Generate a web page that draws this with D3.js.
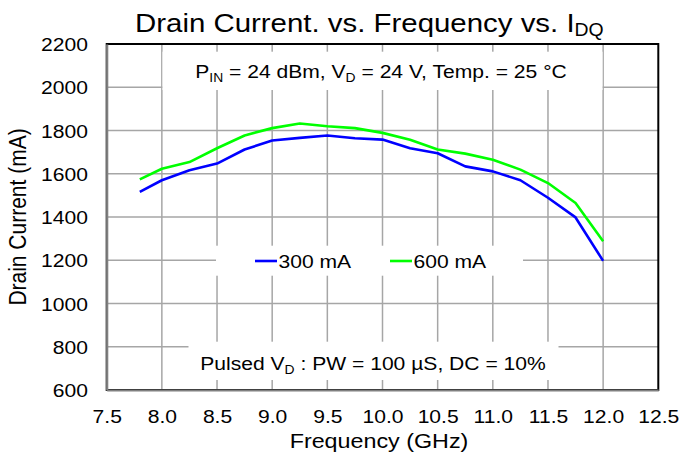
<!DOCTYPE html>
<html>
<head>
<meta charset="utf-8">
<script src="https://cdn.jsdelivr.net/npm/d3@7"></script>
<style>
  html, body { margin: 0; padding: 0; background: #fff; }
  text { font-family: "Liberation Sans", Arial, sans-serif; fill: #000; }
</style>
</head>
<body>
<svg id="chart" width="681" height="456"></svg>
<script>
// ---- data ----
const freqGHz = [7.8, 8.0, 8.25, 8.5, 8.75, 9.0, 9.25, 9.5, 9.75, 10.0, 10.25, 10.5, 10.75, 11.0, 11.25, 11.5, 11.75, 12.0];
const idq300 = [1516, 1570, 1616, 1647, 1712, 1754, 1766, 1777, 1764, 1758, 1718, 1695, 1634, 1611, 1570, 1489, 1398, 1197];
const idq600 = [1574, 1623, 1654, 1718, 1777, 1811, 1832, 1820, 1811, 1789, 1757, 1712, 1693, 1665, 1619, 1557, 1465, 1288];
const seriesNames = ["300 mA", "600 mA"];
const xTicks = [7.5, 8.0, 8.5, 9.0, 9.5, 10.0, 10.5, 11.0, 11.5, 12.0, 12.5];
const yTicks = [600, 800, 1000, 1200, 1400, 1600, 1800, 2000, 2200];

// ---- layout ----
const SX = 1.11; // horizontal text stretch of the reference
const svg = d3.select("#chart");
const L = 106.7, R = 658.3, T = 44, B = 390;
const x = d3.scaleLinear().domain([7.5, 12.5]).range([L, R]);
const y = d3.scaleLinear().domain([600, 2200]).range([B, T]);

function txt(parent, px, py, size, anchor, rot) {
  return parent.append("text")
    .attr("transform", `translate(${px},${py}) scale(${SX},1)` + (rot ? ` rotate(${rot})` : ""))
    .attr("font-size", size)
    .attr("text-anchor", anchor || "start");
}

// gridlines
const grid = svg.append("g").attr("stroke", "#a6a6a6").attr("stroke-width", 1.5);
grid.selectAll("line.v").data(xTicks.slice(1, -1)).join("line")
  .attr("x1", d => x(d)).attr("x2", d => x(d)).attr("y1", T).attr("y2", B);
grid.selectAll("line.h").data(yTicks.slice(1, -1)).join("line")
  .attr("y1", d => y(d)).attr("y2", d => y(d)).attr("x1", L).attr("x2", R);

// white annotation / legend boxes (cover gridlines)
svg.append("rect").attr("x", 162.5).attr("y", 51.7).attr("width", 440).attr("height", 38.3).attr("fill", "#fff");
svg.append("rect").attr("x", 188.5).attr("y", 341.7).attr("width", 370).attr("height", 38.3).attr("fill", "#fff");
svg.append("rect").attr("x", 216).attr("y", 245.7).attr("width", 307).attr("height", 30).attr("fill", "#fff");

// plot border
svg.append("rect").attr("x", L).attr("y", T).attr("width", R - L).attr("height", B - T)
  .attr("fill", "none").attr("stroke", "#000").attr("stroke-width", 2);
// axes (gray)
const xAxis = d3.axisBottom(x).tickValues(xTicks).tickSize(0).tickFormat(d3.format(".1f"));
const yAxis = d3.axisLeft(y).tickValues(yTicks).tickSize(0).tickFormat(d3.format("d"));
const gx = svg.append("g").attr("transform", `translate(0,${B})`).call(xAxis);
const gy = svg.append("g").attr("transform", `translate(${L},0)`).call(yAxis);
[gx, gy].forEach(g => {
  g.select(".domain").attr("stroke", "#808080").attr("stroke-width", 2.2);
  g.selectAll("text").attr("font-family", "Liberation Sans, Arial, sans-serif").attr("font-size", 19).attr("fill", "#000");
});
gx.selectAll(".tick text").attr("y", 0).attr("dy", 0)
  .attr("transform", `translate(0,33) scale(${SX},1)`);
gy.selectAll(".tick text").attr("x", 0).attr("dy", "0.35em")
  .attr("transform", `translate(-18.7,0) scale(${SX},1)`);

// lines
const line = d3.line().x((d, i) => x(freqGHz[i])).y(d => y(d));
svg.append("path").datum(idq300).attr("d", line).attr("fill", "none")
  .attr("stroke", "#0000ff").attr("stroke-width", 2.6).attr("stroke-linejoin", "round");
svg.append("path").datum(idq600).attr("d", line).attr("fill", "none")
  .attr("stroke", "#00ff00").attr("stroke-width", 2.6).attr("stroke-linejoin", "round");

// legend
const legColors = ["#0000ff", "#00ff00"];
const legX = [255, 390];
seriesNames.forEach((n, i) => {
  svg.append("line").attr("x1", legX[i]).attr("x2", legX[i] + 22).attr("y1", 261).attr("y2", 261)
    .attr("stroke", legColors[i]).attr("stroke-width", 2.6);
  txt(svg, legX[i] + 23.5, 267.7, 19, "start").text(n);
});

// title
const title = txt(svg, 135, 32, 26.5, "start");
title.append("tspan").text("Drain Current. vs. Frequency vs. I");
title.append("tspan").attr("font-size", 17.5).attr("dy", 4).text("DQ");

// annotations
const a1 = txt(svg, 381, 78, 19, "middle");
a1.append("tspan").text("P");
a1.append("tspan").attr("font-size", 12.5).attr("dy", 3.5).text("IN");
a1.append("tspan").attr("dy", -3.5).text(" = 24 dBm, V");
a1.append("tspan").attr("font-size", 12.5).attr("dy", 3.5).text("D");
a1.append("tspan").attr("dy", -3.5).text(" = 24 V, Temp. = 25 °C");

const a2 = txt(svg, 373, 370, 19, "middle");
a2.append("tspan").text("Pulsed V");
a2.append("tspan").attr("font-size", 12.5).attr("dy", 3.5).text("D");
a2.append("tspan").attr("dy", -3.5).text(" : PW = 100 µS, DC = 10%");

// axis titles
txt(svg, 379, 448, 21, "middle").text("Frequency (GHz)");
txt(svg, 26, 217, 21, "middle", -90).text("Drain Current (mA)");
</script>
</body>
</html>
